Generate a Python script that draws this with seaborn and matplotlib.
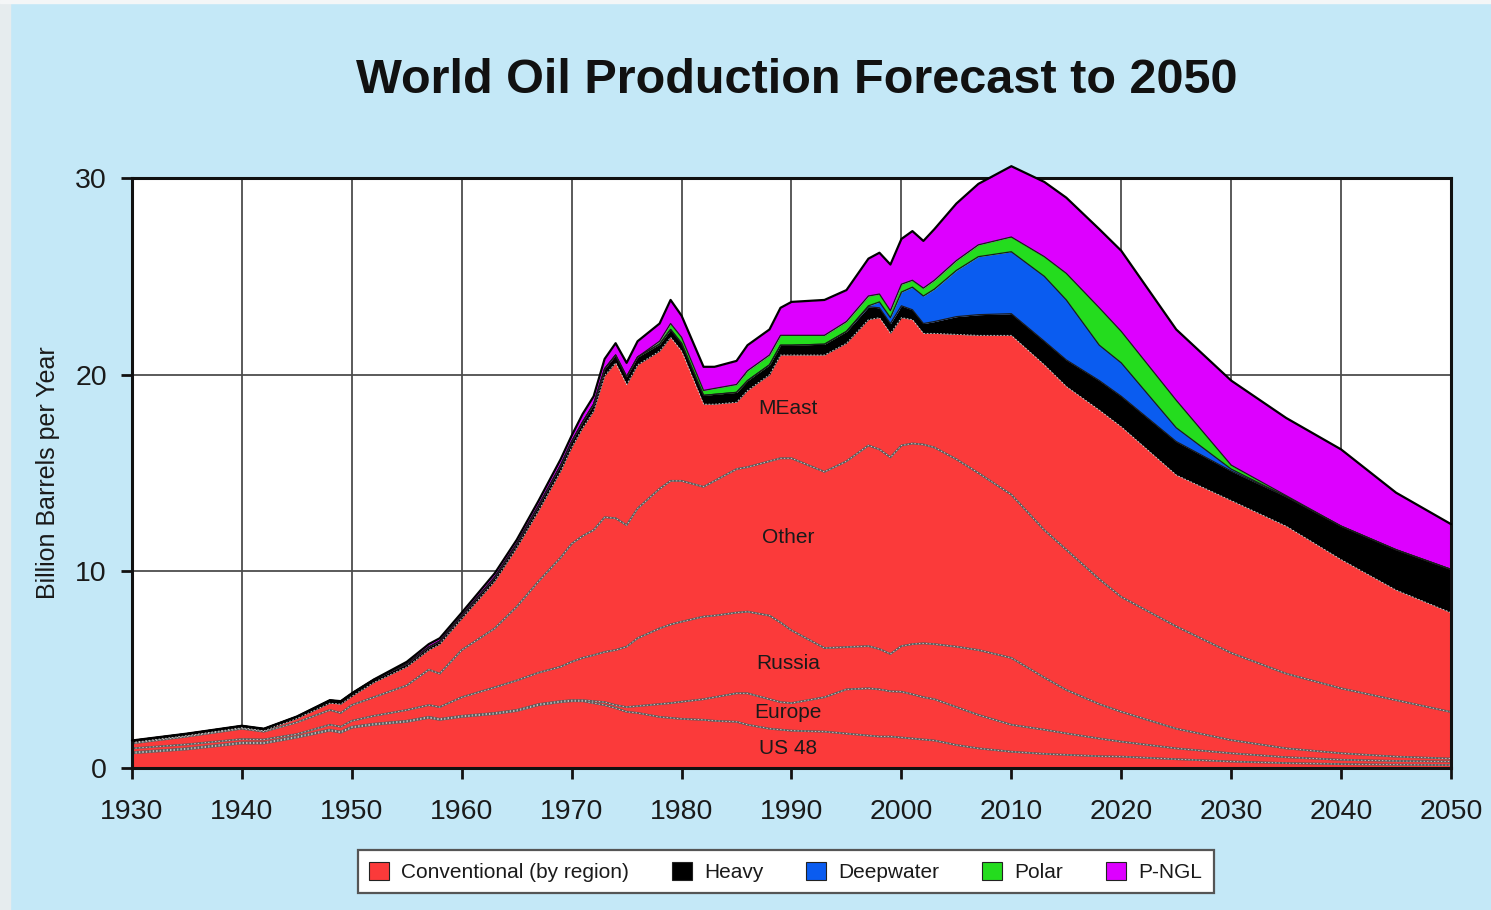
import numpy as np
import matplotlib
matplotlib.use("Agg")
import matplotlib.pyplot as plt
from matplotlib.patches import Patch, Rectangle
import seaborn as sns

# ---------------- data (billion barrels per year) ----------------
years = [1930, 1935, 1940, 1942, 1945, 1948, 1949, 1950, 1952, 1955, 1957, 1958,
         1960, 1963, 1965, 1967, 1969, 1970, 1971, 1972, 1973, 1974, 1975, 1976,
         1978, 1979, 1980, 1982, 1983, 1985, 1986, 1988, 1989, 1990, 1993, 1995,
         1997, 1998, 1999, 2000, 2001, 2002, 2003, 2005, 2007, 2010, 2013, 2015,
         2018, 2020, 2025, 2030, 2035, 2040, 2045, 2050]

us48 = [0.75, 0.95, 1.25, 1.25, 1.55, 1.9, 1.8, 2.05, 2.2, 2.35, 2.55, 2.45,
        2.6, 2.75, 2.9, 3.2, 3.35, 3.4, 3.4, 3.3, 3.2, 3.05, 2.86, 2.8,
        2.6, 2.55, 2.5, 2.45, 2.4, 2.35, 2.2, 2.0, 1.95, 1.9, 1.85, 1.75,
        1.65, 1.6, 1.6, 1.55, 1.5, 1.45, 1.4, 1.17, 1.0, 0.83, 0.72, 0.67,
        0.6, 0.58, 0.45, 0.33, 0.25, 0.2, 0.17, 0.15]

europe = [0.05, 0.05, 0.05, 0.05, 0.05, 0.05, 0.05, 0.05, 0.05, 0.05, 0.05, 0.05,
          0.05, 0.05, 0.05, 0.05, 0.05, 0.05, 0.05, 0.1, 0.15, 0.15, 0.24, 0.35,
          0.65, 0.75, 0.87, 1.05, 1.2, 1.45, 1.6, 1.5, 1.4, 1.4, 1.75, 2.25,
          2.4, 2.4, 2.3, 2.33, 2.25, 2.15, 2.1, 1.93, 1.7, 1.37, 1.23, 1.09,
          0.9, 0.76, 0.55, 0.42, 0.3, 0.22, 0.19, 0.18]

russia = [0.2, 0.2, 0.17, 0.15, 0.12, 0.25, 0.25, 0.3, 0.4, 0.55, 0.6, 0.6,
          0.95, 1.3, 1.5, 1.6, 1.75, 1.95, 2.15, 2.34, 2.55, 2.8, 3.07, 3.45,
          3.85, 4.0, 4.07, 4.2, 4.15, 4.1, 4.15, 4.25, 4.05, 3.7, 2.5, 2.15,
          2.15, 2.05, 1.9, 2.32, 2.55, 2.74, 2.8, 3.07, 3.3, 3.4, 2.65, 2.21,
          1.75, 1.52, 1.0, 0.67, 0.45, 0.33, 0.22, 0.15]

other = [0.25, 0.4, 0.53, 0.4, 0.6, 0.75, 0.7, 0.8, 0.95, 1.25, 1.8, 1.7,
         2.4, 3.0, 3.75, 4.65, 5.55, 6.0, 6.2, 6.36, 6.85, 6.7, 6.18, 6.6,
         7.1, 7.3, 7.16, 6.6, 6.85, 7.3, 7.35, 7.85, 8.35, 8.75, 8.96, 9.45,
         10.2, 10.15, 10.0, 10.2, 10.2, 10.11, 10.0, 9.53, 9.0, 8.3, 7.5, 7.13,
         6.35, 5.84, 5.2, 4.43, 3.8, 3.3, 2.87, 2.37]

meast = [0.05, 0.05, 0.05, 0.05, 0.2, 0.35, 0.45, 0.45, 0.75, 0.95, 1.0, 1.5,
         1.6, 2.4, 3.0, 3.6, 4.4, 4.9, 5.5, 6.05, 7.2, 7.9, 7.15, 7.3,
         7.0, 7.3, 6.6, 4.2, 3.9, 3.4, 3.9, 4.4, 5.25, 5.25, 5.94, 6.0,
         6.4, 6.7, 6.3, 6.5, 6.3, 5.65, 5.8, 6.35, 7.0, 8.1, 8.4, 8.3,
         8.6, 8.65, 7.7, 7.75, 7.5, 6.55, 5.6, 5.05]

heavy = [0.1, 0.1, 0.1, 0.1, 0.1, 0.15, 0.15, 0.15, 0.15, 0.15, 0.15, 0.15,
         0.15, 0.2, 0.2, 0.25, 0.3, 0.3, 0.3, 0.35, 0.35, 0.4, 0.4, 0.4,
         0.35, 0.4, 0.4, 0.45, 0.5, 0.5, 0.5, 0.5, 0.5, 0.5, 0.55, 0.6,
         0.65, 0.5, 0.5, 0.6, 0.5, 0.5, 0.6, 0.9, 1.05, 1.1, 1.2, 1.35,
         1.5, 1.55, 1.7, 1.5, 1.5, 1.7, 2.05, 2.2]

deepwater = [0, 0, 0, 0, 0, 0, 0, 0, 0, 0, 0, 0,
             0, 0, 0, 0, 0, 0, 0, 0, 0, 0, 0, 0,
             0, 0, 0, 0, 0, 0, 0, 0, 0, 0, 0, 0,
             0.05, 0.3, 0.3, 0.7, 1.15, 1.4, 1.65, 2.35, 2.95, 3.15, 3.3, 3.05,
             1.8, 1.7, 0.7, 0.1, 0, 0, 0, 0]

polar = [0, 0, 0, 0, 0, 0, 0, 0, 0, 0, 0, 0,
         0, 0, 0, 0, 0, 0, 0, 0, 0, 0, 0, 0,
         0.15, 0.3, 0.3, 0.25, 0.3, 0.4, 0.5, 0.5, 0.5, 0.5, 0.45, 0.5,
         0.5, 0.4, 0.35, 0.4, 0.35, 0.4, 0.45, 0.5, 0.6, 0.75, 1.0, 1.35,
         1.9, 1.6, 1.4, 0.2, 0.05, 0, 0, 0]

pngl = [0, 0, 0, 0, 0, 0, 0, 0, 0, 0.1, 0.15, 0.15,
        0.15, 0.2, 0.2, 0.25, 0.3, 0.3, 0.4, 0.4, 0.5, 0.6, 0.7, 0.8,
        0.9, 1.2, 1.1, 1.2, 1.1, 1.2, 1.3, 1.3, 1.4, 1.7, 1.8, 1.6,
        1.9, 2.1, 2.35, 2.3, 2.5, 2.4, 2.6, 2.9, 3.1, 3.6, 3.8, 3.85,
        4.0, 4.1, 3.6, 4.3, 3.95, 3.9, 2.9, 2.3]

region_labels = ["US 48", "Europe", "Russia", "Other", "MEast"]
legend_labels = ["Conventional (by region)", "Heavy", "Deepwater", "Polar", "P-NGL"]
x_ticks = [1930, 1940, 1950, 1960, 1970, 1980, 1990, 2000, 2010, 2020, 2030, 2040, 2050]
y_ticks = [0, 10, 20, 30]

# ---------------- style ----------------
BG = "#c4e8f7"
RED = "#fb3a3a"
BLACK = "#000000"
BLUE = "#0a5cf0"
GREEN = "#24dc1e"
MAG = "#dd00ff"

sns.set_theme(style="white")
plt.rcParams["font.family"] = ["Liberation Sans", "DejaVu Sans"]

fig = plt.figure(figsize=(14.91, 9.10), dpi=100, facecolor=BG)
fig.patches.append(Rectangle((0, 0), 10 / 1491, 1, transform=fig.transFigure,
                             color="#e6ecee", zorder=0))
fig.patches.append(Rectangle((0, 1 - 3 / 910), 1, 3 / 910, transform=fig.transFigure,
                             color="#f4f6f7", zorder=0))

ax = fig.add_axes([0.0885, 0.156, 0.8847, 0.6484])
ax.set_facecolor("white")

series = [us48, europe, russia, other, meast, heavy, deepwater, polar, pngl]
colors = [RED] * 5 + [BLACK, BLUE, GREEN, MAG]
polys = ax.stackplot(years, *series, colors=colors, linewidth=0, zorder=2,
                     antialiased=True)
for p in polys:
    p.set_clip_on(False)

cum = np.cumsum(np.array(series, dtype=float), axis=0)

# region boundary lines (gray with light dashes)
for i in range(4):
    sns.lineplot(x=years, y=cum[i], ax=ax, color="#5a5a5a", linewidth=1.4,
                 estimator=None, sort=False, zorder=3)
    ax.plot(years, cum[i], color="#e8e8e8", linewidth=0.5, dashes=(2, 3), zorder=4)
# top of conventional
ax.plot(years, cum[4], color="#d8d8d8", linewidth=0.6, dashes=(2, 2), zorder=4)
# other layer edges
for i in (5, 6, 7):
    sns.lineplot(x=years, y=cum[i], ax=ax, color="#1a1a1a", linewidth=0.9,
                 estimator=None, sort=False, zorder=4)
top_line = sns.lineplot(x=years, y=cum[8], ax=ax, color="#000000", linewidth=1.6,
                        estimator=None, sort=False, zorder=8)
top_line.lines[-1].set_clip_on(False)

# region labels
label_font = dict(fontsize=15, color="#1a1a1a", ha="center", va="center", zorder=6)
label_y = [1.0, 2.8, 5.3, 11.7, 18.3]
for name, yv in zip(region_labels, label_y):
    ax.text(1989.7, yv, name, **label_font)

# axes
ax.set_xlim(1930, 2050)
ax.set_ylim(0, 30)
ax.set_xticks(x_ticks)
ax.set_yticks(y_ticks)
ax.set_xticklabels([str(t) for t in x_ticks])
ax.set_yticklabels([str(t) for t in y_ticks])
ax.grid(True, color="#4d4d4d", linewidth=1.3, zorder=1)
ax.set_axisbelow(True)
for name, sp in ax.spines.items():
    sp.set_visible(True)
    sp.set_color("#111111")
    sp.set_linewidth(2.2)
    sp.set_zorder(1.8 if name == "top" else 7)
ax.tick_params(axis="both", which="major", direction="out", length=8, width=2,
               color="#111111", labelsize=20.5, labelcolor="#1a1a1a", pad=10,
               left=True, bottom=True)
ax.tick_params(axis="x", pad=14)
ax.set_xlabel("")
ax.set_ylabel("Billion Barrels per Year", fontsize=18, color="#1a1a1a", labelpad=11)

fig.text(0.5345, 0.912, "World Oil Production Forecast to 2050", ha="center", va="center",
         fontsize=35, fontweight="bold", color="#111111")

handles = [Patch(facecolor=c, edgecolor="#222222", linewidth=0.8)
           for c in [RED, BLACK, BLUE, GREEN, MAG]]
leg = fig.legend(handles, legend_labels, loc="center", bbox_to_anchor=(0.527, 0.042),
                 ncol=5, frameon=True, fancybox=False, edgecolor="#555555",
                 facecolor="white", framealpha=1, prop={"size": 15},
                 handlelength=0.95, handleheight=0.95, handletextpad=0.6,
                 columnspacing=2.05, borderpad=0.55)
leg.get_frame().set_linewidth(1.6)
for t in leg.get_texts():
    t.set_color("#1a1a1a")

fig.savefig("out.png", dpi=100, facecolor=BG)
